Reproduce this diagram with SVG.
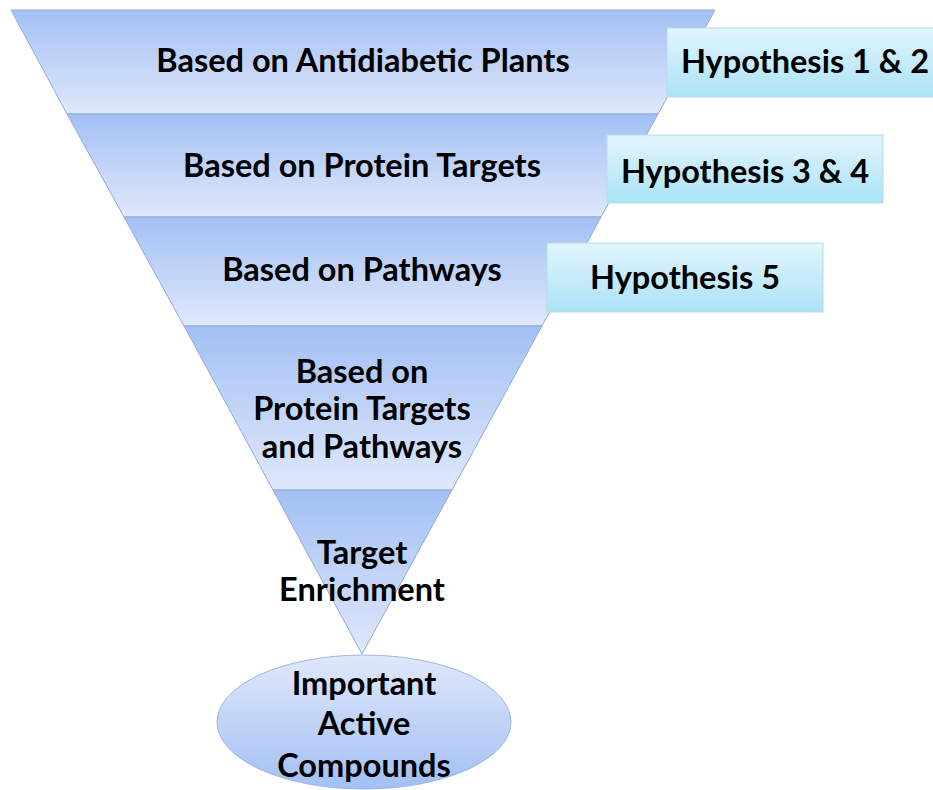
<svg xmlns="http://www.w3.org/2000/svg" width="933" height="790" viewBox="0 0 933 790">
<defs>
<linearGradient id="band" x1="0" y1="0" x2="0" y2="1">
<stop offset="0" stop-color="#a2c0f4"/>
<stop offset="1" stop-color="#e0e8fb"/>
</linearGradient>
<linearGradient id="hyp" x1="0" y1="0" x2="0" y2="1">
<stop offset="0" stop-color="#e2f5fc"/>
<stop offset="1" stop-color="#abe3f7"/>
</linearGradient>
<linearGradient id="ell" x1="0" y1="0" x2="0" y2="1">
<stop offset="0" stop-color="#e0e8fb"/>
<stop offset="1" stop-color="#a2c0f4"/>
</linearGradient>
<style>
.band{fill:url(#band);stroke:#93abd6;stroke-width:1}
.hyp{fill:url(#hyp);stroke:#b5dbe9;stroke-width:1}
.t{font-family:Lato,"Open Sans",sans-serif;font-weight:bold;font-size:32.5px;fill:#000;text-anchor:middle}
</style>
</defs>
<g id="band1">
<polygon class="band" points="11,10 715,10 658,114 67,114"/>
<text class="t" x="363" y="72">Based on Antidiabetic Plants</text>
</g>
<g id="band2">
<polygon class="band" points="67,114 658,114 601,217 124,217"/>
<text class="t" x="362" y="177">Based on Protein Targets</text>
</g>
<g id="band3">
<polygon class="band" points="124,217 601,217 542,326 184,326"/>
<text class="t" x="362" y="281">Based on Pathways</text>
</g>
<g id="band4">
<polygon class="band" points="184,326 542,326 452,490 273,490"/>
<text class="t" x="362" y="383">Based on</text>
<text class="t" x="362" y="420">Protein Targets</text>
<text class="t" x="362" y="458">and Pathways</text>
</g>
<g id="band5">
<polygon class="band" points="273,490 452,490 362,654"/>
<text class="t" x="362" y="564">Target</text>
<text class="t" x="362" y="601">Enrichment</text>
</g>
<g id="result">
<ellipse cx="364" cy="722" rx="147" ry="67" fill="url(#ell)" stroke="#9fb6df" stroke-width="1"/>
<text class="t" x="364" y="695">Important</text>
<text class="t" x="364" y="735">Active</text>
<text class="t" x="364" y="777">Compounds</text>
</g>
<g id="hyp12">
<rect class="hyp" x="667" y="28" width="276" height="69"/>
<text class="t" x="805" y="73">Hypothesis 1 &amp; 2</text>
</g>
<g id="hyp34">
<rect class="hyp" x="607" y="135" width="276" height="68"/>
<text class="t" x="745" y="183">Hypothesis 3 &amp; 4</text>
</g>
<g id="hyp5">
<rect class="hyp" x="547" y="243" width="276" height="69"/>
<text class="t" x="685" y="289">Hypothesis 5</text>
</g>
<g id="connectors"/>
</svg>
